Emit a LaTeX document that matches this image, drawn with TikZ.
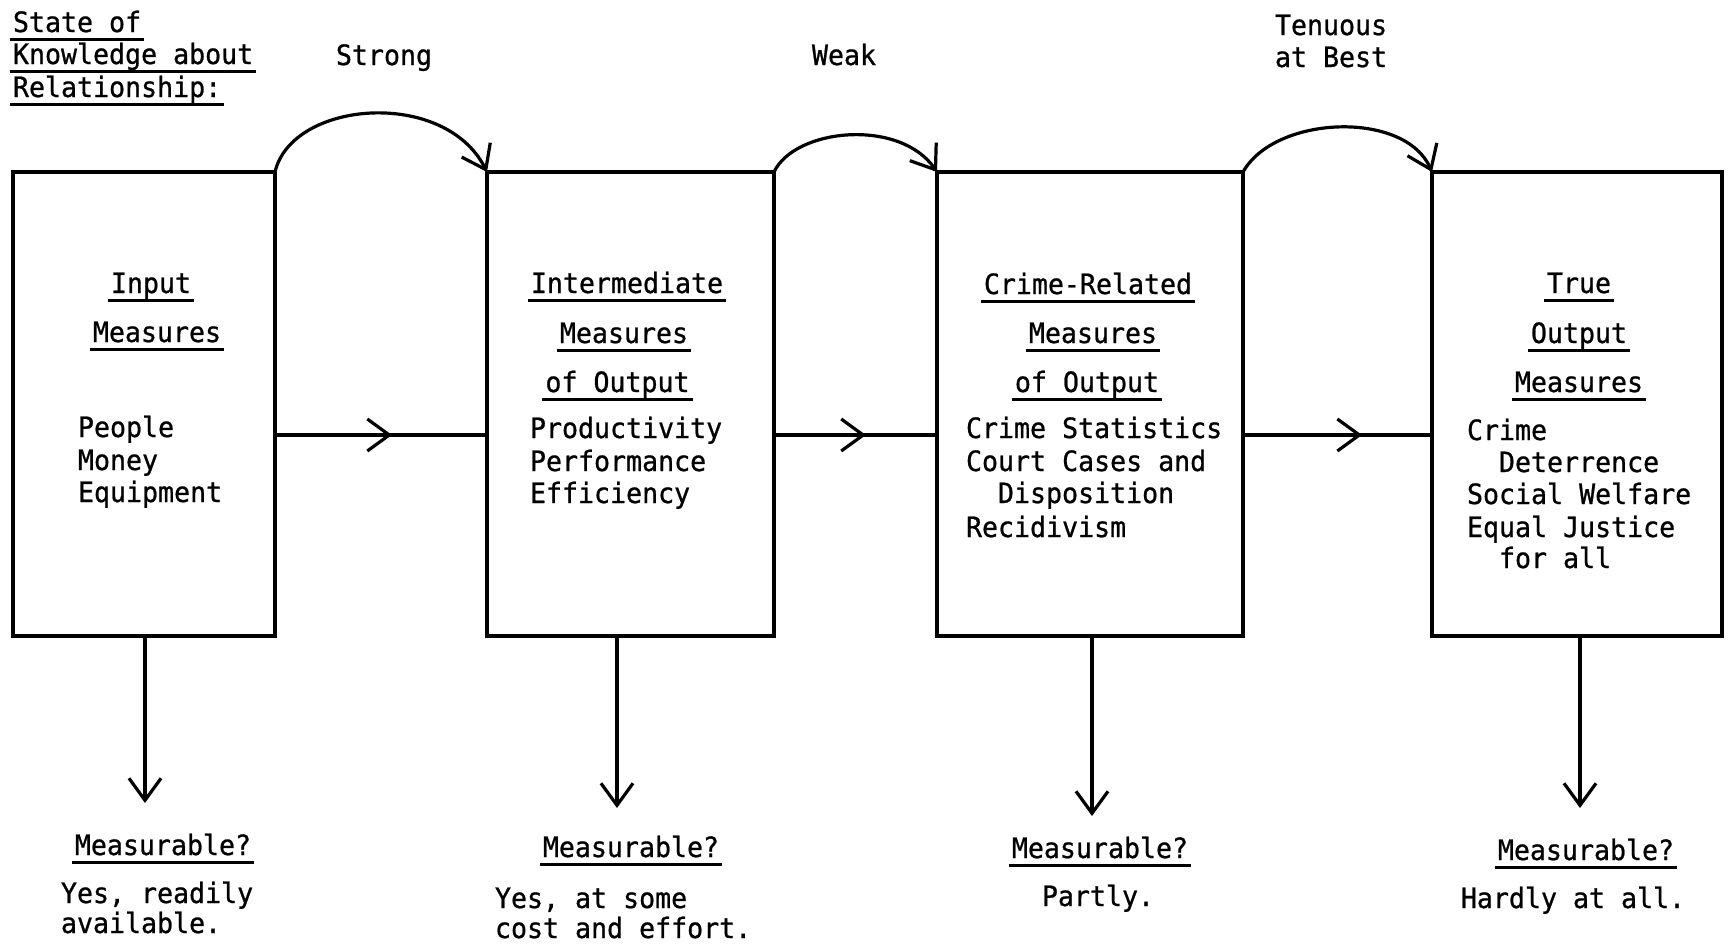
\documentclass[tikz,border=0pt]{standalone}
\usepackage{fontspec}
\usetikzlibrary{arrows.meta,decorations.markings}
\newfontfamily\tw{DejaVu Sans Mono}[FakeStretch=0.95,FakeBold=0.8]
% typewriter-style underline at a fixed depth below the baseline
\newsavebox\ulbox
\newlength\ullen
\newcommand{\ulin}[1]{\sbox\ulbox{#1}\setlength\ullen{\wd\ulbox}\addtolength\ullen{6pt}%
  \rlap{\kern-3pt\rule[-8.5pt]{\ullen}{2.5pt}}\usebox\ulbox}
\tikzset{
  txt/.style={inner sep=0pt, outer sep=0pt, font=\tw\fontsize{28}{33}\selectfont},
  lt/.style={txt, anchor=base west},
  ct/.style={txt, anchor=base},
  box/.style={draw, line width=3.3pt, outer sep=0pt, inner sep=0pt, minimum height=464pt},
  link/.style={line width=3.2pt, -{Straight Barb[length=22pt,width=32pt]}},
  midarrow/.style={line width=3.2pt, postaction={decorate},
    decoration={markings, mark=at position #1 with {\arrow[line width=3.2pt]{Straight Barb[length=22pt,width=32pt]}}}},
}
\begin{document}
\begin{tikzpicture}[x=1pt,y=-1pt]
\useasboundingbox[fill=white] (0,0) rectangle (1729,946);

% heading at the top left
\node[lt] (s1) at (13,32) {\ulin{State of}};
\node[lt] (s2) at (13,64) {\ulin{Knowledge about}};
\node[lt] (s3) at (13,97) {\ulin{Relationship:}};

% strength of each link
\node[ct] (k1) at (384,65) {Strong};
\node[ct] (k2) at (844,65) {Weak};
\node[lt] (k3a) at (1275,35) {Tenuous};
\node[lt] (k3b) at (1275,67) {at Best};

% the four measure boxes
\node[box, minimum width=262pt] (b1) at (144,404) {};
\node[box, minimum width=287pt] (b2) at (630.5,404) {};
\node[box, minimum width=306pt] (b3) at (1090,404) {};
\node[box, minimum width=290pt] (b4) at (1577,404) {};

% box 1
\node[ct] (t1a) at (151,293) {\ulin{Input}};
\node[ct] (t1b) at (157,342) {\ulin{Measures}};
\node[lt] (p1a) at (78,437) {People};
\node[lt] (p1b) at (78,470) {Money};
\node[lt] (p1c) at (78,502) {Equipment};

% box 2
\node[ct] (t2a) at (627,293) {\ulin{Intermediate}};
\node[ct] (t2b) at (624,343) {\ulin{Measures}};
\node[ct] (t2c) at (617.5,392) {\ulin{of Output}};
\node[lt] (p2a) at (530,438) {Productivity};
\node[lt] (p2b) at (530,471) {Performance};
\node[lt] (p2c) at (530,503) {Efficiency};

% box 3
\node[ct] (t3a) at (1088,294) {\ulin{Crime-Related}};
\node[ct] (t3b) at (1093,343) {\ulin{Measures}};
\node[ct] (t3c) at (1087,392) {\ulin{of Output}};
\node[lt] (p3a) at (966,438) {Crime Statistics};
\node[lt] (p3b) at (966,471) {Court Cases and};
\node[lt] (p3c) at (998,503) {Disposition};
\node[lt] (p3d) at (966,537) {Recidivism};

% box 4
\node[ct] (t4a) at (1579,293) {\ulin{True}};
\node[ct] (t4b) at (1579,343) {\ulin{Output}};
\node[ct] (t4c) at (1579,392) {\ulin{Measures}};
\node[lt] (p4a) at (1467,440) {Crime};
\node[lt] (p4b) at (1499,472) {Deterrence};
\node[lt] (p4c) at (1467,504) {Social Welfare};
\node[lt] (p4d) at (1467,537) {Equal Justice};
\node[lt] (p4e) at (1499,568) {for all};

% links between boxes: arcs over the top
\draw[link] (b1.north east) .. controls (292,100) and (445,88) .. (b2.north west);
\draw[link] (b2.north east) .. controls (795,128) and (900,118) .. (b3.north west);
\draw[link] (b3.north east) .. controls (1275,115) and (1405,110) .. (b4.north west);

% links between boxes: straight lines with a mid arrow
\coordinate (hy) at (0,435);
\draw[midarrow=0.552] (b1.east |- hy) -- (b2.west |- hy);
\draw[midarrow=0.564] (b2.east |- hy) -- (b3.west |- hy);
\draw[midarrow=0.63] (b3.east |- hy) -- (b4.west |- hy);

% measurability arrows
\coordinate (m1) at (145,803);
\coordinate (m2) at (617,808);
\coordinate (m3) at (1092,816);
\coordinate (m4) at (1580,808);
\draw[link] (b1.south -| m1) -- (m1);
\draw[link] (b2.south -| m2) -- (m2);
\draw[link] (b3.south -| m3) -- (m3);
\draw[link] (b4.south -| m4) -- (m4);

% measurability answers
\node[ct] (q1) at (163,855) {\ulin{Measurable?}};
\node[lt] (a1a) at (61,903) {Yes, readily};
\node[lt] (a1b) at (61,933) {available.};

\node[ct] (q2) at (631,857) {\ulin{Measurable?}};
\node[lt] (a2a) at (495,908) {Yes, at some};
\node[lt] (a2b) at (495,938) {cost and effort.};

\node[ct] (q3) at (1100,858) {\ulin{Measurable?}};
\node[ct] (a3) at (1098,906) {Partly.};

\node[ct] (q4) at (1586,860) {\ulin{Measurable?}};
\node[ct] (a4) at (1573,908) {Hardly at all.};
\end{tikzpicture}
\end{document}
